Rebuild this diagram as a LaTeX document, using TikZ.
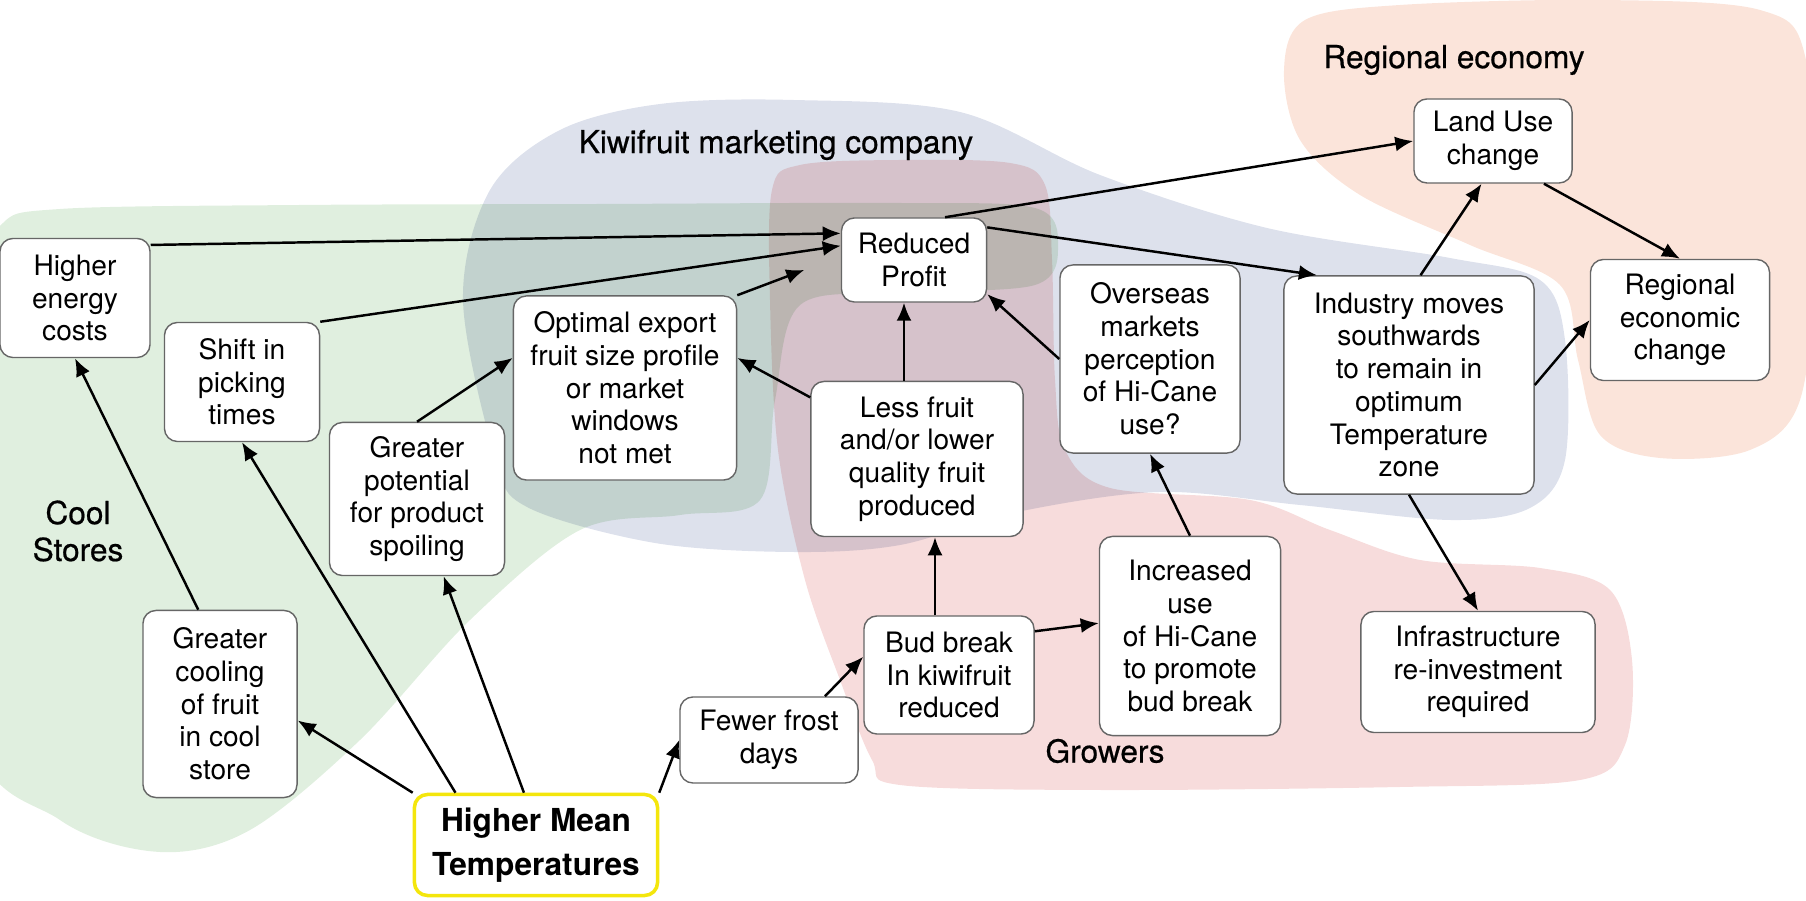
\documentclass[tikz,border=0pt]{standalone}
\usepackage{fontspec}
\setmainfont{TeX Gyre Heros}
\newfontfamily\grpfont[FakeBold=0.6]{TeX Gyre Heros}
\usetikzlibrary{arrows.meta,calc}
\definecolor{coolgreen}{HTML}{E0EFDF}
\definecolor{kiwiblue}{HTML}{DDE1EC}
\definecolor{growred}{HTML}{F7DCDC}
\definecolor{regpeach}{HTML}{FBE4DA}
\definecolor{hotyellow}{HTML}{F4E60C}
\tikzset{
    box/.style={draw=black!60, line width=0.4pt, fill=white, rounded corners=1.3mm,
        align=center, inner sep=1pt, font=\fontsize{8}{9.3}\selectfont},
    arr/.style={-{Latex[length=1.8mm,width=1.5mm]}, line width=0.7pt},
    group/.style={font=\grpfont\fontsize{9}{10.5}\selectfont, align=center}
}
\begin{document}
\begin{tikzpicture}[x=0.01cm, y=-0.01cm]
        \useasboundingbox (0,0) rectangle (1806,901);
        \begin{scope}[blend mode=multiply]
            \clip (0,0) rectangle (1806,901);
            \fill[coolgreen] plot[smooth cycle, tension=0.55] coordinates {
                (-30,300) (0,226) (60,209) (300,205) (600,204) (900,203) (1035,208) (1058,245)
                (1035,285) (900,293) (800,305) (775,400) (760,500) (680,515) (580,530)
                (470,620) (360,740) (250,830) (160,852) (60,820) (-30,720)};
            \fill[kiwiblue] plot[smooth cycle, tension=0.55] coordinates {
                (463,300) (490,190) (560,130) (660,104) (793,100) (960,112) (1100,175)
                (1267,228) (1450,258) (1540,280) (1565,340) (1565,460) (1530,508)
                (1450,520) (1300,505) (1159,492) (1012,513) (900,545) (793,552)
                (655,543) (527,507) (495,457)};
            \fill[growred] plot[smooth cycle, tension=0.55] coordinates {
                (772,190) (800,165) (900,160) (1010,163) (1045,185) (1052,260) (1055,380)
                (1065,450) (1110,488) (1250,500) (1330,530) (1420,560) (1540,568)
                (1610,590) (1632,660) (1625,745) (1580,780) (1400,787) (1100,790)
                (900,785) (872,760) (840,680) (805,580) (778,450) (770,300)};
            \fill[regpeach] plot[smooth cycle, tension=0.55] coordinates {
                (1284,70) (1305,20) (1400,5) (1600,0) (1760,10) (1806,60) (1815,250)
                (1800,400) (1750,450) (1660,458) (1600,435) (1578,360) (1560,285)
                (1470,245) (1360,195) (1300,140)};
        \end{scope}
        \node[group] (coollbl) at (78,531) {Cool\\Stores};
        \node[group] (kiwilbl) at (776,145) {Kiwifruit marketing company};
        \node[group] (regionlbl) at (1454,60) {Regional economy};
        \node[group] (growlbl) at (1105,751) {Growers};
        \node[box, minimum width=1.50cm, minimum height=1.19cm] (energy) at (75,298) {Higher\\energy\\costs};
        \node[box, minimum width=1.55cm, minimum height=1.19cm] (shift) at (242,382) {Shift in\\picking\\times};
        \node[box, minimum width=1.75cm, minimum height=1.53cm] (spoil) at (417,499) {Greater\\potential\\for product\\spoiling};
        \node[box, minimum width=2.23cm, minimum height=1.84cm] (optimal) at (625,388) {Optimal export\\fruit size profile\\or market\\windows\\not met};
        \node[box, minimum width=1.45cm, minimum height=0.84cm] (profit) at (914,260) {Reduced\\Profit};
        \node[box, minimum width=2.12cm, minimum height=1.55cm] (lessfruit) at (917,459) {Less fruit\\and/or lower\\quality fruit\\produced};
        \node[box, minimum width=1.80cm, minimum height=1.88cm] (overseas) at (1150,359) {Overseas\\markets\\perception\\of Hi-Cane\\use?};
        \node[box, minimum width=2.50cm, minimum height=2.18cm] (industry) at (1409,385) {Industry moves\\southwards\\to remain in\\optimum\\Temperature\\zone};
        \node[box, minimum width=1.58cm, minimum height=0.84cm] (landuse) at (1493,141) {Land Use\\change};
        \node[box, minimum width=1.79cm, minimum height=1.21cm] (regional) at (1680,320) {Regional\\economic\\change};
        \node[box, minimum width=1.54cm, minimum height=1.87cm] (cooling) at (220,704) {Greater\\cooling\\of fruit\\in cool\\store};
        \node[box, minimum width=1.78cm, minimum height=0.86cm] (frost) at (769,740) {Fewer frost\\days};
        \node[box, minimum width=1.70cm, minimum height=1.18cm] (budbreak) at (949,675) {Bud break\\In kiwifruit\\reduced};
        \node[box, minimum width=1.81cm, minimum height=1.99cm] (hicane) at (1190,636) {Increased\\use\\of Hi-Cane\\to promote\\bud break};
        \node[box, minimum width=2.34cm, minimum height=1.21cm] (infra) at (1478,672) {Infrastructure\\re-investment\\required};
        \node[box, draw=hotyellow, line width=1pt, minimum width=2.43cm, minimum height=1.01cm,
            font=\fontsize{9}{12.5}\selectfont\bfseries] (hmt) at (536,845) {Higher Mean\\Temperatures};
        \foreach \a/\b in {
            energy.35/profit.160, shift.north east/profit.169, spoil.north/optimal.165,
            lessfruit.150/optimal.15, overseas.west/profit.-25, profit.54/landuse.west,
            profit.24/industry.130, industry.84/landuse.255, landuse.-40/regional.north,
            industry.east/regional.west, industry.south/infra.north, hicane.north/overseas.south,
            budbreak.27/hicane.172, frost.38/budbreak.168, hmt.north west/cooling.-12,
            hmt.147/shift.south, hmt.103/spoil.-71, hmt.23/frost.west, cooling.103/energy.south}
            {\draw[arr] (\a) -- (\b);}
        \draw[arr, shorten >=0.39cm] (optimal.north east) -- (profit.177);
        \draw[arr] ($(lessfruit.north)+(-13,0)$) -- ($(profit.south)+(-10,0)$);
        \draw[arr] ($(budbreak.north)+(-14,0)$) -- ($(lessfruit.south)+(18,0)$);
    \end{tikzpicture}
\end{document}
